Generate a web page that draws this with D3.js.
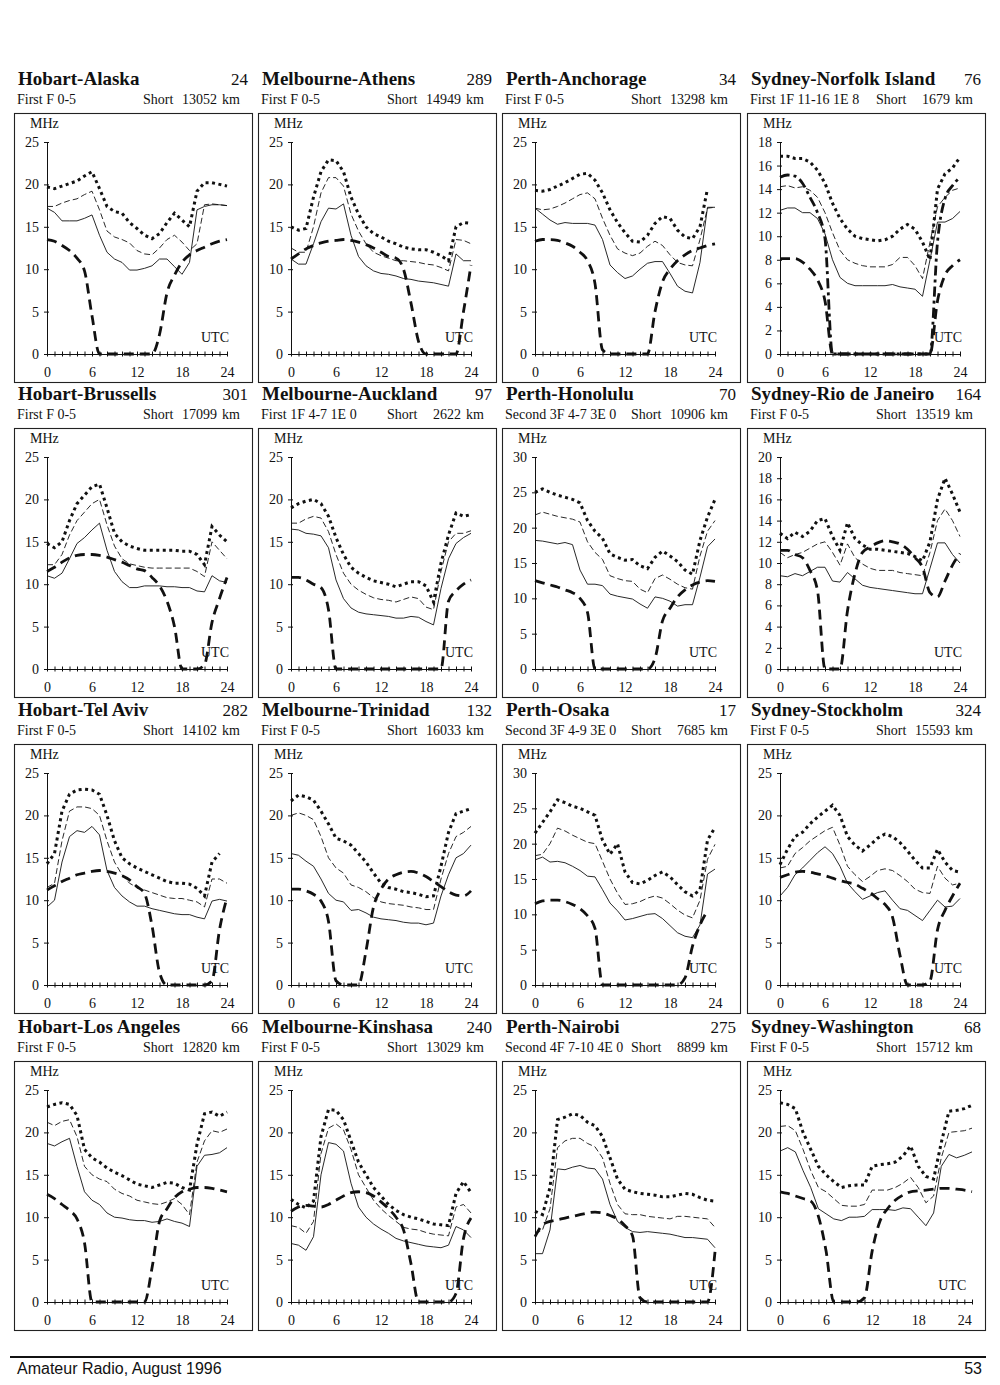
<!DOCTYPE html>
<html>
<head>
<meta charset="utf-8">
<script src="https://cdn.jsdelivr.net/npm/d3@7"></script>
<style>
body { margin: 0; background: #fff; }
svg text { font-family: "Liberation Serif", "Times New Roman", serif; fill: #111; }
.title { font-size: 19px; font-weight: bold; }
.title-num { font-size: 17px; }
.sub { font-size: 14px; }
.unit { font-size: 14px; }
.footer { font-family: "Liberation Sans", Arial, sans-serif !important; font-size: 16px; }
</style>
</head>
<body>
<script>
// panel headings, row by row
const titles = ["Hobart-Alaska", "Melbourne-Athens", "Perth-Anchorage", "Sydney-Norfolk Island",
  "Hobart-Brussells", "Melbourne-Auckland", "Perth-Honolulu", "Sydney-Rio de Janeiro",
  "Hobart-Tel Aviv", "Melbourne-Trinidad", "Perth-Osaka", "Sydney-Stockholm",
  "Hobart-Los Angeles", "Melbourne-Kinshasa", "Perth-Nairobi", "Sydney-Washington"];
const routeNumbers = [24, 289, 34, 76, 301, 97, 70, 164, 282, 132, 17, 324, 66, 240, 275, 68];
const modes = ["First F 0-5", "First F 0-5", "First F 0-5", "First 1F 11-16 1E 8",
  "First F 0-5", "First 1F 4-7 1E 0", "Second 3F 4-7 3E 0", "First F 0-5",
  "First F 0-5", "First F 0-5", "Second 3F 4-9 3E 0", "First F 0-5",
  "First F 0-5", "First F 0-5", "Second 4F 7-10 4E 0", "First F 0-5"];
const distances = [13052, 14949, 13298, 1679, 17099, 2622, 10906, 13519,
  14102, 16033, 7685, 15593, 12820, 13029, 8899, 15712];

// axis ranges / tick steps
const yMax = [25, 25, 25, 18, 25, 25, 30, 20, 25, 25, 30, 25, 25, 25, 25, 25];
const yStep = [5, 5, 5, 2, 5, 5, 5, 2, 5, 5, 5, 5, 5, 5, 5, 5];
const xMax = [24, 24, 24, 24, 24, 24, 24, 24, 24, 24, 24, 24, 24, 24, 24, 25];
const hourLabels = [0, 6, 12, 18, 24];

// MHz per UTC hour (index = hour), one row per panel
const dotted = [
  [19.7,19.5,19.8,20.1,20.4,21.0,21.5,19.5,17.4,16.8,16.6,15.5,14.8,14.0,13.6,14.2,15.5,16.6,15.8,15.0,19.2,20.2,20.2,20.0,19.8],
  [15.0,14.6,14.8,18.5,21.5,22.9,22.8,21.5,18.5,16.5,15.0,14.2,13.8,13.3,13.0,12.6,12.4,12.3,12.3,12.0,11.6,11.0,15.0,15.5,15.4],
  [19.3,19.2,19.4,19.8,20.2,20.7,21.2,21.3,20.5,19.0,17.0,15.5,14.3,13.3,13.2,14.0,15.4,16.2,16.0,14.6,13.8,13.6,15.0,19.5,null],
  [16.8,16.8,16.6,16.6,16.3,15.6,14.5,12.8,11.5,10.6,10.0,9.8,9.7,9.6,9.7,10.0,10.6,11.0,10.6,9.5,8.0,14.0,15.3,15.8,16.7],
  [14.8,14.3,15.0,17.5,19.5,20.5,21.5,21.8,19.0,16.0,15.0,14.5,14.2,14.0,14.0,14.0,14.0,14.0,13.9,13.9,13.5,12.3,16.8,15.8,15.0],
  [19.0,19.5,19.8,20.0,19.5,18.0,15.5,13.5,12.0,11.3,10.8,10.4,10.2,10.0,9.7,10.0,10.3,10.3,9.8,7.9,12.5,15.8,18.4,18.0,18.2],
  [25.0,25.5,25.0,24.6,24.3,24.0,23.5,21.0,19.5,18.5,16.3,15.8,15.4,15.5,14.6,14.2,15.8,16.7,16.0,15.2,14.0,13.4,18.2,21.5,24.0],
  [12.8,12.3,12.9,12.5,13.0,14.0,14.2,12.5,11.2,13.8,12.3,11.7,11.3,11.3,11.2,11.1,11.0,10.9,10.6,10.2,12.0,16.0,18.0,16.5,14.8],
  [14.3,15.5,20.5,22.5,23.0,23.1,23.0,22.5,20.0,17.0,15.0,14.3,13.8,13.4,13.0,12.6,12.2,12.0,12.0,11.9,11.4,10.5,14.5,15.5,null],
  [21.7,22.4,22.2,21.8,20.5,19.0,17.3,17.0,16.5,15.5,14.5,13.2,12.0,11.5,11.3,11.0,10.9,10.7,10.4,10.5,14.0,18.0,20.2,20.5,20.8],
  [21.5,23.0,24.5,26.2,25.8,25.3,25.0,24.5,24.0,20.5,18.5,20.0,16.0,14.5,14.3,14.8,15.5,16.0,15.3,14.2,13.2,12.6,13.5,20.5,22.3],
  [14.2,16.0,17.5,18.0,19.0,19.8,20.5,21.2,20.0,17.5,16.5,15.8,16.5,17.3,17.8,17.5,16.8,15.8,14.7,13.8,13.8,16.0,14.5,13.5,13.3],
  [23.0,23.3,23.5,23.3,22.0,18.0,17.0,16.5,15.8,15.3,14.9,14.4,13.9,13.7,13.5,13.8,14.1,14.0,13.5,13.2,18.6,22.2,22.4,21.9,22.4],
  [12.1,11.5,11.1,11.9,19.5,22.7,22.6,21.5,19.0,16.5,15.0,13.5,12.5,11.5,10.8,10.3,10.0,9.8,9.5,9.2,9.1,9.0,12.8,14.2,12.9],
  [10.7,10.3,13.5,21.5,21.8,22.2,22.0,21.2,20.8,19.5,17.0,14.5,13.3,13.0,12.8,12.7,12.6,12.4,12.4,12.6,12.8,12.7,12.3,12.0,11.9],
  [23.5,23.3,22.8,20.0,18.0,16.0,15.0,14.2,13.5,13.7,13.8,13.8,16.0,16.2,16.3,16.5,17.2,18.4,16.0,14.8,14.5,18.8,22.5,22.6,22.8,23.2]
];
const thinDashed = [
  [17.4,17.4,17.8,18.1,18.3,18.8,19.2,17.0,14.5,13.8,13.5,13.1,12.2,11.8,11.7,12.5,13.5,14.0,13.2,12.2,13.0,17.6,17.7,17.6,17.5],
  [12.5,12.0,12.0,15.0,19.0,20.8,20.8,19.8,16.5,14.5,13.0,12.0,11.6,11.3,11.0,11.0,10.9,10.8,10.6,10.5,10.2,9.8,13.5,13.4,13.0],
  [17.2,17.0,17.1,17.4,17.8,18.3,18.8,19.0,18.3,16.0,14.0,12.4,11.9,11.6,11.9,12.7,13.3,12.8,11.7,10.8,10.5,10.4,13.5,17.2,17.3],
  [14.2,14.3,14.1,14.2,13.9,13.3,12.0,10.3,8.8,8.0,7.7,7.5,7.4,7.4,7.4,7.6,8.2,8.2,7.5,6.4,9.5,12.5,13.3,13.9,14.1],
  [12.3,12.3,13.5,15.8,17.5,18.5,19.5,20.0,17.0,14.5,13.0,12.4,12.2,12.0,11.9,11.9,11.9,11.9,11.9,11.9,11.5,10.9,15.0,14.0,13.0],
  [17.2,17.2,17.7,18.0,17.8,16.2,13.5,11.3,10.0,9.3,8.8,8.4,8.2,8.1,7.9,8.2,8.5,8.3,7.3,7.0,11.5,15.0,16.0,16.0,16.3],
  [21.8,22.2,21.9,21.6,21.4,21.2,20.8,18.0,16.5,15.5,13.2,12.8,12.5,12.4,11.3,10.8,12.8,13.3,12.7,12.0,11.5,11.3,16.0,19.5,21.0],
  [11.0,10.5,10.8,11.0,11.4,11.8,12.0,11.0,9.8,11.8,10.5,9.9,9.5,9.3,9.3,9.3,9.1,9.0,8.9,8.8,11.0,14.0,15.1,14.0,12.5],
  [11.5,12.0,17.0,20.5,21.0,21.0,20.8,20.0,17.0,14.5,13.0,12.0,11.5,11.2,10.9,10.6,10.3,10.2,10.2,10.0,9.8,9.2,12.5,12.5,12.0],
  [20.0,20.3,20.0,19.5,17.5,15.0,13.8,13.2,11.8,11.5,11.0,10.3,9.8,9.6,9.5,9.4,9.2,9.1,8.9,8.9,12.5,15.5,17.5,18.0,18.7],
  [18.3,18.5,20.0,22.2,21.8,21.2,20.7,20.2,20.0,17.5,15.0,13.0,11.4,11.5,11.8,12.3,12.6,12.3,11.5,10.6,9.9,9.5,12.0,17.8,19.9],
  [13.8,14.0,15.5,16.2,17.0,17.6,18.2,18.6,16.5,14.0,13.0,12.2,12.8,13.5,13.7,13.5,12.9,12.2,11.3,10.9,10.8,14.0,12.6,11.8,12.0],
  [21.2,20.8,21.3,21.5,19.5,16.0,15.0,14.5,14.2,13.3,12.8,12.5,12.0,11.8,11.6,11.5,11.8,12.2,11.5,10.3,16.5,19.0,20.2,20.0,20.4],
  [9.0,8.8,8.1,9.5,17.5,20.5,21.0,20.3,18.0,15.0,13.5,12.0,11.0,10.2,9.5,8.8,8.6,8.5,8.2,8.0,7.9,7.8,11.2,11.5,10.5],
  [8.0,8.5,11.0,18.2,19.0,19.3,19.3,18.7,18.3,17.0,14.0,11.5,10.4,10.3,10.3,10.1,10.0,9.9,9.8,10.1,10.1,10.0,9.9,9.8,8.8],
  [20.7,20.8,20.2,18.0,15.5,13.5,13.0,12.2,11.4,11.3,11.3,11.5,13.2,13.2,13.2,13.5,14.0,14.7,13.5,11.7,12.5,17.0,20.0,20.1,20.2,20.5]
];
const solid = [
  [17.2,16.7,15.7,15.7,15.7,16.0,16.4,14.0,12.0,11.2,10.8,9.9,9.9,10.1,10.4,11.2,11.2,10.3,9.4,10.8,17.0,17.4,17.6,17.6,17.5],
  [11.2,10.6,10.6,13.0,15.6,17.2,17.1,17.7,14.0,11.5,10.4,9.8,9.5,9.4,9.2,8.9,8.8,8.6,8.5,8.4,8.2,8.0,11.8,11.0,11.0],
  [17.2,16.5,15.8,15.3,15.5,15.4,15.4,15.4,15.2,13.5,10.5,9.6,8.9,9.2,10.0,10.7,10.9,10.9,9.5,8.0,7.4,7.2,10.8,17.3,17.3],
  [12.2,12.4,12.4,12.0,12.0,11.5,10.2,8.0,6.5,6.0,5.8,5.8,5.8,5.8,5.8,5.9,5.7,5.6,5.5,4.9,8.0,11.2,11.2,11.5,12.1],
  [11.0,10.7,11.3,13.0,14.8,15.5,16.4,17.2,14.0,11.5,10.3,9.6,9.6,9.8,9.8,9.8,9.7,9.7,9.6,9.6,9.2,9.1,11.0,10.4,10.2],
  [16.5,16.4,16.0,15.9,15.7,14.3,10.5,8.3,7.2,6.7,6.5,6.4,6.3,6.2,6.0,6.0,6.2,6.1,5.6,5.2,9.5,13.0,14.8,15.5,16.0],
  [18.2,18.1,17.9,17.7,17.9,17.6,14.0,12.0,12.0,11.8,10.6,10.3,10.1,9.9,9.2,8.6,10.2,10.0,9.6,8.9,9.1,9.1,13.0,17.3,18.4],
  [8.8,8.7,9.0,8.8,9.2,9.6,9.6,8.3,8.2,9.1,8.5,7.9,7.7,7.6,7.5,7.4,7.3,7.2,7.1,7.1,9.5,11.9,11.9,10.8,10.0],
  [9.2,10.0,14.5,17.5,18.2,18.0,18.7,17.7,13.5,11.5,10.5,9.8,9.3,9.3,9.0,8.8,8.6,8.4,8.3,8.3,8.0,7.8,9.9,10.1,9.9],
  [15.5,15.3,14.6,14.0,12.5,10.8,10.0,9.8,8.8,8.9,8.5,8.0,7.8,7.7,7.6,7.4,7.3,7.3,7.1,7.3,10.5,13.0,15.0,15.5,16.5],
  [17.7,18.1,17.4,17.5,17.3,16.8,16.2,15.4,15.3,13.5,11.6,10.5,9.2,9.4,9.7,10.0,10.1,9.4,8.4,7.4,6.9,6.7,8.5,15.7,16.4],
  [10.5,11.5,13.0,13.8,14.7,15.6,16.3,15.5,14.0,12.0,11.0,10.1,10.5,10.9,11.1,10.0,9.0,8.8,8.2,7.6,8.8,10.0,9.2,9.3,10.2],
  [18.7,18.4,18.9,19.3,16.0,13.0,12.0,11.5,10.5,10.0,9.9,9.7,9.6,9.6,9.4,9.5,9.8,9.5,9.3,8.9,16.0,17.3,17.4,17.6,18.2],
  [6.9,6.7,6.1,7.7,15.0,18.8,18.6,17.8,14.0,11.2,10.0,9.2,8.6,8.1,7.5,7.2,7.0,6.8,6.6,6.5,6.4,6.7,8.9,8.5,7.6],
  [5.7,5.7,8.5,15.7,15.6,15.9,16.1,15.8,15.7,14.5,11.5,9.5,8.8,8.3,8.2,8.3,8.2,8.1,8.0,7.8,7.6,7.6,7.5,7.4,6.4],
  [17.8,18.2,17.7,15.5,13.5,11.0,10.4,9.8,9.6,10.0,10.0,10.1,10.9,10.9,10.9,10.8,11.1,11.0,10.0,9.0,10.5,16.0,17.4,17.0,17.3,17.7]
];
const thickDashed = [
  [13.5,13.3,12.8,12.2,11.3,9.8,4.5,0,0,0,0,0,0,0,0,2.3,7.2,9.3,10.8,11.7,12.2,12.6,13.0,13.3,13.5],
  [11.2,11.8,12.4,12.8,13.1,13.3,13.4,13.5,13.4,13.2,12.9,12.5,12.0,11.5,11.3,10.0,6.0,1.5,0,0,0,0,0,5.0,10.5],
  [13.3,13.5,13.5,13.4,13.1,12.7,12.0,11.0,8.3,0.5,0,0,0,0,0,0,5.0,8.5,10.0,11.0,11.7,12.2,12.5,12.8,13.0],
  [8.1,8.1,8.1,7.8,7.2,6.3,4.5,0,0,0,0,0,0,0,0,0,0,0,0,0,0,4.5,6.7,7.5,8.0],
  [11.5,12.0,12.6,13.1,13.4,13.5,13.5,13.4,13.2,12.9,12.6,12.2,11.8,11.6,10.8,9.8,8.0,5.0,0,0,0,0.5,5.5,8.3,10.8],
  [10.8,10.8,10.5,10.0,9.6,7.0,0,0,0,0,0,0,0,0,0,0,0,0,0,0,0,8.0,9.2,10.0,10.5],
  [12.5,12.2,11.9,11.6,11.2,10.8,10.0,8.0,0,0,0,0,0,0,0,0,1.5,6.8,8.6,10.2,11.2,11.9,12.3,12.5,12.4],
  [11.2,11.2,10.8,10.5,9.3,7.4,0,0,0,5.5,9.0,11.0,11.5,11.9,12.1,12.0,11.8,11.3,10.5,9.6,7.2,6.8,8.3,9.8,10.9],
  [11.2,11.7,12.2,12.6,13.0,13.2,13.4,13.5,13.4,13.2,12.9,12.4,11.6,10.8,7.0,1.5,0,0,0,0,0,0,0.5,6.5,10.3],
  [11.3,11.3,11.1,10.7,9.9,7.5,0.5,0,0,0,4.0,9.2,11.3,12.5,13.0,13.3,13.4,13.2,12.8,12.2,11.6,11.0,10.6,10.5,11.1],
  [11.5,11.9,12.0,12.0,11.8,11.4,10.8,9.8,8.0,0,0,0,0,0,0,0,0,0,0,0,1.0,5.5,8.5,10.5,null],
  [12.7,13.0,13.3,13.4,13.3,13.1,12.9,12.6,12.3,12.1,11.9,11.4,10.9,10.2,9.5,8.0,3.5,0,0,0,0.5,6.5,8.8,10.5,12.0],
  [12.7,12.2,11.5,10.8,9.8,7.0,0,0,0,0,0,0,0,0,4.0,9.5,11.0,12.3,13.0,13.3,13.5,13.5,13.4,13.2,13.0],
  [10.7,11.2,11.4,11.3,11.2,11.5,12.0,12.5,12.9,13.0,12.9,12.5,11.8,11.0,10.0,8.5,4.5,0,0,0,0,0,1.0,7.5,9.9],
  [7.7,9.1,9.5,9.7,9.9,10.1,10.3,10.5,10.6,10.5,10.2,9.8,9.0,7.8,0.5,0,0,0,0,0,0,0,0,0,5.9],
  [13.0,12.8,12.5,12.2,11.9,10.1,6.0,0,0,0,0,0.5,6.0,9.5,11.0,12.0,12.6,13.0,13.1,13.2,13.3,13.4,13.4,13.3,13.2,13.0]
];
// extra dash-dot curve, only on Sydney-Norfolk Island
const dashDotPanel = 3;
const dashDot = [15.0,15.2,15.1,14.5,13.3,12.0,9.8,0,0,0,0,0,0,0,0,0,0,0,0,0,0,9.5,13.2,14.3,15.0];

const boxW = 238, boxH = 269;
const colX = [14, 258, 502, 747];
const rowY = [113, 428, 744, 1061];
const plotH = 212;

const svg = d3.select("body").append("svg")
    .attr("width", 1000)
    .attr("height", 1385);

function drawPanel(i) {
    const g = svg.append("g")
        .attr("transform", "translate(" + colX[i % 4] + "," + rowY[Math.floor(i / 4)] + ")");

    // heading lines
    g.append("text").attr("class", "title").attr("x", 4).attr("y", -28).text(titles[i]);
    g.append("text").attr("class", "title-num").attr("x", boxW - 4).attr("y", -28)
        .attr("text-anchor", "end").text(routeNumbers[i]);
    g.append("text").attr("class", "sub").attr("x", 3).attr("y", -9).text(modes[i]);
    g.append("text").attr("class", "sub").attr("x", 129).attr("y", -9).text("Short");
    g.append("text").attr("class", "sub").attr("x", 203).attr("y", -9)
        .attr("text-anchor", "end").text(distances[i]);
    g.append("text").attr("class", "sub").attr("x", 226).attr("y", -9)
        .attr("text-anchor", "end").text("km");

    g.append("rect")
        .attr("x", 0.5).attr("y", 0.5)
        .attr("width", boxW).attr("height", boxH)
        .attr("fill", "none").attr("stroke", "#222").attr("stroke-width", 1.1);

    const plotW = xMax[i] === 24 ? 180 : 192;
    const plot = g.append("g").attr("transform", "translate(33,29)");
    const x = d3.scaleLinear().domain([0, xMax[i]]).range([0, plotW]);
    const y = d3.scaleLinear().domain([0, yMax[i]]).range([plotH, 0]);

    // x axis: a tick every hour, labels every six
    const xAxis = plot.append("g")
        .attr("transform", "translate(0," + plotH + ")")
        .call(d3.axisBottom(x)
            .tickValues(d3.range(0, xMax[i] + 1))
            .tickSize(3).tickSizeOuter(0).tickPadding(10)
            .tickFormat(h => hourLabels.includes(h) ? h : ""));
    xAxis.selectAll(".tick line").attr("y1", -2.5).attr("y2", 2.5);

    const yAxis = plot.append("g")
        .call(d3.axisLeft(y)
            .tickValues(d3.range(0, yMax[i] + 1, yStep[i]))
            .tickSize(3).tickSizeOuter(0).tickPadding(5));
    yAxis.selectAll(".tick line").attr("x1", 2);

    [xAxis, yAxis].forEach(a => {
        a.attr("font-family", null).attr("font-size", null);
        a.selectAll(".tick text").style("font-size", "14px");
        a.select(".domain").attr("stroke", "#111");
        a.selectAll(".tick line").attr("stroke", "#111");
    });

    plot.append("text").attr("class", "unit").attr("x", -17).attr("y", -14).text("MHz");
    plot.append("text").attr("class", "unit").attr("x", x(24) + 2).attr("y", plotH - 12)
        .attr("text-anchor", "end").text("UTC");

    const line = d3.line()
        .defined(d => d[1] != null)
        .x(d => x(d[0]))
        .y(d => y(d[1]));

    function series(values, curve, width, dash) {
        plot.append("path")
            .datum(values.map((v, h) => [h, v]))
            .attr("fill", "none")
            .attr("stroke", "#111")
            .attr("stroke-width", width)
            .attr("stroke-dasharray", dash)
            .attr("d", line.curve(curve));
    }

    series(thickDashed[i], d3.curveMonotoneX, 2.8, "10,6");
    if (i === dashDotPanel) series(dashDot, d3.curveMonotoneX, 2.8, "10,4,3,4");
    series(solid[i], d3.curveLinear, 0.9, null);
    series(thinDashed[i], d3.curveLinear, 0.9, "6,3");
    series(dotted[i], d3.curveLinear, 3, "3,3.5");
}

titles.forEach((t, i) => drawPanel(i));

// page footer
svg.append("line")
    .attr("x1", 10).attr("x2", 986)
    .attr("y1", 1357).attr("y2", 1357)
    .attr("stroke", "#111").attr("stroke-width", 2);
svg.append("text").attr("class", "footer").attr("x", 17).attr("y", 1374)
    .text("Amateur Radio, August 1996");
svg.append("text").attr("class", "footer").attr("x", 982).attr("y", 1374)
    .attr("text-anchor", "end").text("53");
</script>
</body>
</html>
